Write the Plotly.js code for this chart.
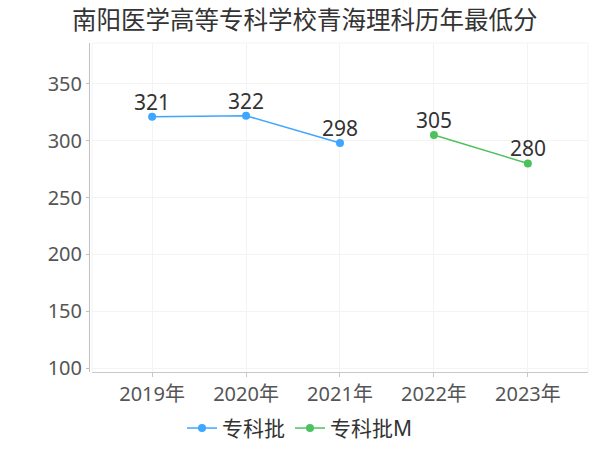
<!DOCTYPE html>
<html>
<head>
<meta charset="utf-8">
<script src="https://cdn.plot.ly/plotly-3.0.1.min.js"></script>
<style>html,body{margin:0;padding:0;background:#fff;}#chart{width:600px;height:450px;}</style>
</head>
<body>
<div id="chart"></div>
<script>
const years = ["2019年", "2020年", "2021年", "2022年", "2023年"];
const seriesAName = "专科批";
const seriesAYears = ["2019年", "2020年", "2021年"];
const seriesAValues = [321, 322, 298];
const seriesBName = "专科批M";
const seriesBYears = ["2022年", "2023年"];
const seriesBValues = [305, 280];
const yTicks = [100, 150, 200, 250, 300, 350];
const titleText = "南阳医学高等专科学校青海理科历年最低分";

const FONT = "Noto Sans, Noto Sans CJK SC, sans-serif";
const blue = "#3ea6ff";
const green = "#4cc25e";

const traces = [
  {
    x: seriesAYears, y: seriesAValues, name: seriesAName, type: "scatter",
    mode: "lines+markers",
    line: {color: blue, width: 1.5}, marker: {color: blue, size: 8},
    cliponaxis: false, hoverinfo: "x+y"
  },
  {
    x: seriesBYears, y: seriesBValues, name: seriesBName, type: "scatter",
    mode: "lines+markers",
    line: {color: green, width: 1.5}, marker: {color: green, size: 8},
    cliponaxis: false, hoverinfo: "x+y"
  }
];

function labels(xs, ys) {
  return xs.map((x, i) => ({
    x: x, y: ys[i], xref: "x", yref: "y", text: String(ys[i]),
    showarrow: false, yanchor: "bottom", xanchor: "center", yshift: -1,
    font: {size: 21, color: "#333", family: FONT}
  }));
}

const layout = {
  width: 600, height: 450,
  margin: {l: 89, r: 12, t: 43, b: 78, autoexpand: false},
  paper_bgcolor: "#fff", plot_bgcolor: "#fff",
  font: {family: FONT, color: "#555"},
  title: {text: titleText, font: {size: 24.5, color: "#333", family: FONT},
          xref: "container", x: 0.508, xanchor: "center", yref: "container", y: 0.955, yanchor: "middle"},
  showlegend: true,
  legend: {orientation: "h", x: 0.5, xanchor: "center", xref: "container",
           y: 0.048, yanchor: "middle", yref: "container",
           font: {size: 21, color: "#333", family: FONT}, itemwidth: 30, tracegroupgap: 0},
  xaxis: {
    type: "category", categoryarray: years, categoryorder: "array",
    range: [-0.64, 4.64], domain: [0.006, 1], automargin: false,
    showgrid: true, gridcolor: "#f3f3f3", gridwidth: 1,
    showline: true, linecolor: "#c8c8c8", linewidth: 1,
    ticks: "outside", ticklen: 4, tickcolor: "#c8c8c8",
    tickfont: {size: 20, color: "#555", family: FONT}, zeroline: false, fixedrange: true
  },
  yaxis: {
    range: [96.5, 386], tickvals: yTicks, ticktext: yTicks.map(String),
    anchor: "free", position: 0, automargin: false,
    showgrid: true, gridcolor: "#f3f3f3", gridwidth: 1,
    showline: true, linecolor: "#c0c0c0", linewidth: 1,
    ticks: "outside", ticklen: 3, tickcolor: "#c0c0c0",
    tickfont: {size: 20, color: "#555", family: FONT}, zeroline: false, fixedrange: true
  },
  annotations: labels(seriesAYears, seriesAValues).concat(labels(seriesBYears, seriesBValues)),
  shapes: [
    {type: "line", xref: "paper", yref: "paper", x0: 0.006, x1: 1, y0: 1, y1: 1, line: {color: "#f3f3f3", width: 1}},
    {type: "line", xref: "paper", yref: "paper", x0: 1, x1: 1, y0: 0, y1: 1, line: {color: "#f3f3f3", width: 1}},
    {type: "line", xref: "paper", yref: "paper", x0: 0.006, x1: 0.006, y0: 0, y1: 1, line: {color: "#f3f3f3", width: 1}}
  ]
};

Plotly.newPlot("chart", traces, layout, {displayModeBar: false, responsive: false});
</script>
</body>
</html>
